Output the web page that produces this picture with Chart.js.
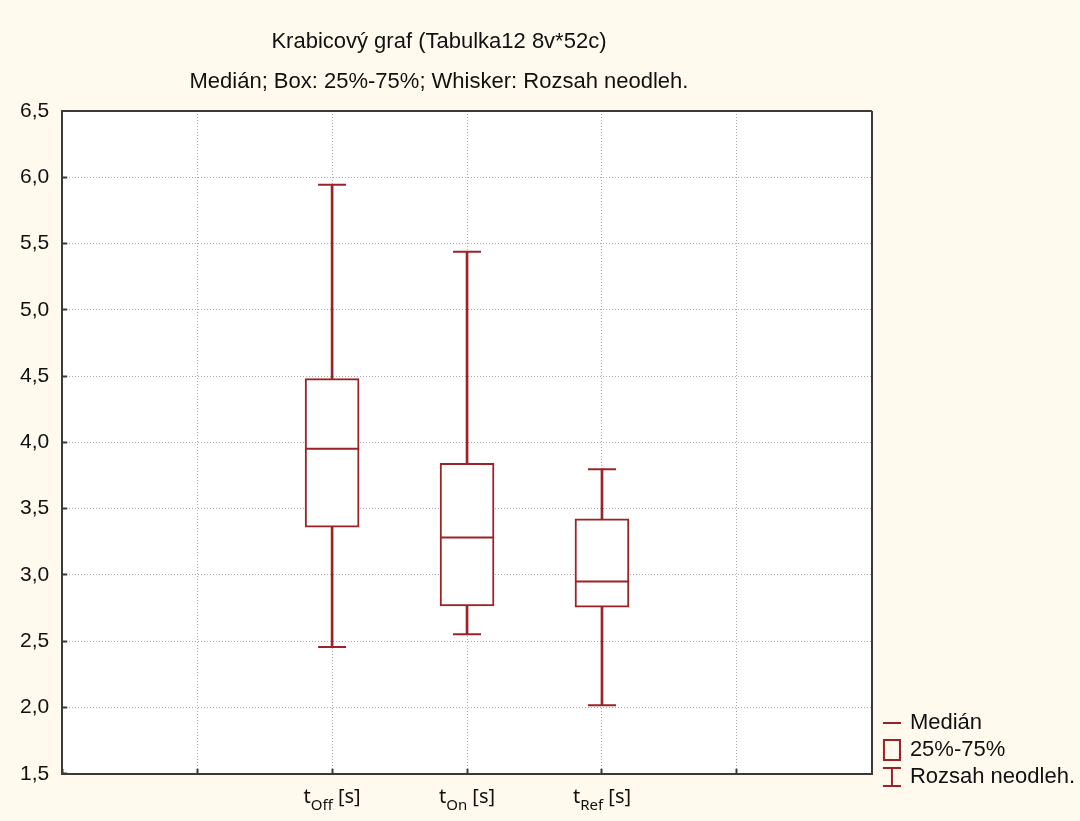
<!DOCTYPE html>
<html>
<head>
<meta charset="utf-8">
<script src="https://cdn.jsdelivr.net/npm/chart.js@4/dist/chart.umd.min.js"></script>
<style>
  html, body { margin: 0; padding: 0; background: #FFF9EE; }
  canvas { display: block; }
</style>
</head>
<body>
<canvas id="chart" width="1080" height="821"></canvas>
<script>
// ---- data ----
const titleLines = ['Krabicový graf (Tabulka12 8v*52c)', 'Medián; Box: 25%-75%; Whisker: Rozsah neodleh.'];
const categoryPos = [2, 3, 4];
const categoryMain = ['t', 't', 't'];
const categorySub = ['Off', 'On', 'Ref'];
const categoryUnit = ' [s]';
const whiskerMin = [2.456, 2.553, 2.018];
const q1 = [3.360, 2.767, 2.757];
const median = [3.953, 3.282, 2.950];
const q3 = [4.481, 3.843, 3.423];
const whiskerMax = [5.944, 5.439, 3.798];
const yMin = 1.5, yMax = 6.5, yStep = 0.5;
const xMin = 0, xMax = 6, xStep = 1;
const legendLabels = ['Medián', '25%-75%', 'Rozsah neodleh.'];

// ---- styles ----
const RED = '#9b2226';
const BG = '#FFF9EE';
const TEXT = '#111111';
const FONT = '"Liberation Sans", Arial, sans-serif';
const GRID = '#a9a9a9';
const FRAME = '#3a3a3a';

// ---- legend icons ----
function makeIcon(kind) {
  const c = document.createElement('canvas');
  c.width = 26; c.height = 26;
  const g = c.getContext('2d');
  g.fillStyle = RED; g.strokeStyle = RED;
  if (kind === 0) {
    g.fillRect(8, 12, 18, 2);
  } else if (kind === 1) {
    g.lineWidth = 2;
    g.strokeRect(9, 3, 16, 20);
  } else {
    g.fillRect(8, 3, 18, 2);
    g.fillRect(8, 21, 18, 2);
    g.fillRect(16, 3, 2, 20);
  }
  return c;
}
const legendIcons = [makeIcon(0), makeIcon(1), makeIcon(2)];

// ---- datasets built from arrays ----
const boxData = categoryPos.map((x, i) => ({ x, y: [q1[i], q3[i]] }));
const whiskerData = [];
categoryPos.forEach((x, i) => {
  whiskerData.push({ x, y: [whiskerMin[i], q1[i]] });
  whiskerData.push({ x, y: [q3[i], whiskerMax[i]] });
});
const capData = [];
categoryPos.forEach((x, i) => {
  capData.push({ x, y: whiskerMin[i] });
  capData.push({ x, y: whiskerMax[i] });
});
const medianData = categoryPos.map((x, i) => ({ x, y: median[i] }));

// ---- plugins ----
const backgroundPlugin = {
  id: 'bg',
  beforeDraw(chart) {
    const { ctx, chartArea: a } = chart;
    ctx.save();
    ctx.fillStyle = BG;
    ctx.fillRect(0, 0, chart.width, chart.height);
    ctx.fillStyle = '#ffffff';
    ctx.fillRect(a.left, a.top, a.right - a.left, a.bottom - a.top);
    ctx.restore();
  }
};

const titlePlugin = {
  id: 'titles',
  afterDraw(chart) {
    const ctx = chart.ctx;
    ctx.save();
    ctx.fillStyle = TEXT;
    ctx.font = '22px ' + FONT;
    ctx.textAlign = 'center';
    ctx.textBaseline = 'alphabetic';
    const cx = chart.chartArea.right / 2 + 3;
    ctx.fillText(titleLines[0], cx, 48);
    ctx.fillText(titleLines[1], cx, 88);
    ctx.restore();
  }
};

const xLabelPlugin = {
  id: 'xlabels',
  afterDraw(chart) {
    const ctx = chart.ctx;
    const xs = chart.scales.x;
    const base = chart.chartArea.bottom + 29;
    const mainFont = '20px "Noto Sans", sans-serif';
    const subFont = '15px "Noto Sans", sans-serif';
    ctx.save();
    ctx.fillStyle = TEXT;
    ctx.textBaseline = 'alphabetic';
    ctx.textAlign = 'left';
    categoryPos.forEach((p, i) => {
      ctx.font = mainFont; const w1 = ctx.measureText(categoryMain[i]).width;
      ctx.font = subFont; const w2 = ctx.measureText(categorySub[i]).width;
      ctx.font = mainFont; const w3 = ctx.measureText(categoryUnit).width;
      const cx = xs.getPixelForValue(p);
      let x = cx - (w1 + w2 + w3) / 2;
      ctx.font = mainFont; ctx.fillText(categoryMain[i], x, base); x += w1;
      ctx.font = subFont; ctx.fillText(categorySub[i], x, base + 7); x += w2;
      ctx.font = mainFont; ctx.fillText(categoryUnit, x, base);
    });
    ctx.restore();
  }
};

// grid line at the far end of each axis acts as the opposite frame edge
function gridFor(maxVal) {
  return {
    offset: false,
    color: c => (c.tick && c.tick.value === maxVal) ? FRAME : GRID,
    lineWidth: c => (c.tick && c.tick.value === maxVal) ? 2 : 1,
    drawTicks: true, tickLength: -5, tickColor: FRAME, tickWidth: 2, tickBorderDash: []
  };
}
function borderFor(maxVal) {
  return { display: true, color: FRAME, width: 2,
    dash: c => (c.tick && c.tick.value === maxVal) ? [] : [1, 2] };
}

new Chart(document.getElementById('chart'), {
  type: 'bar',
  data: {
    datasets: [
      { type: 'scatter', label: 'median', data: medianData,
        pointStyle: 'line', pointRadius: 27, pointHoverRadius: 27,
        pointBorderWidth: 2, pointBorderColor: RED, pointBackgroundColor: RED },
      { type: 'scatter', label: 'caps', data: capData,
        pointStyle: 'line', pointRadius: 14, pointHoverRadius: 14,
        pointBorderWidth: 2, pointBorderColor: RED, pointBackgroundColor: RED },
      { type: 'bar', label: 'whiskers', data: whiskerData, grouped: false,
        barThickness: 2, backgroundColor: RED, borderWidth: 0 },
      { type: 'bar', label: 'box', data: boxData, grouped: false,
        barThickness: 54, backgroundColor: '#ffffff', borderColor: RED,
        borderWidth: 2, borderSkipped: false }
    ]
  },
  options: {
    responsive: false,
    animation: false,
    events: [],
    layout: { padding: { left: 2, right: -5, top: 111, bottom: 28 } },
    scales: {
      x: {
        type: 'linear', position: 'bottom', min: xMin, max: xMax, offset: false,
        ticks: { stepSize: xStep, padding: 2.5, font: { size: 16, family: FONT }, callback: () => '' },
        grid: gridFor(xMax),
        border: borderFor(xMax)
      },
      y: {
        type: 'linear', position: 'left', min: yMin, max: yMax,
        ticks: { stepSize: yStep, padding: 18, color: TEXT, font: { size: 21, family: FONT },
          callback: v => v.toFixed(1).replace('.', ',') },
        grid: gridFor(yMax),
        border: borderFor(yMax)
      }
    },
    plugins: {
      title: { display: false },
      tooltip: { enabled: false },
      legend: {
        display: true, position: 'right', align: 'end', fullSize: true,
        onClick: null,
        labels: {
          usePointStyle: true, pointStyleWidth: 22, padding: 5,
          color: TEXT, font: { size: 22, family: FONT },
          generateLabels: () => legendLabels.map((t, i) => ({
            text: t, pointStyle: legendIcons[i], fillStyle: 'transparent',
            strokeStyle: 'transparent', lineWidth: 0, hidden: false, fontColor: TEXT, index: i
          }))
        }
      }
    }
  },
  plugins: [backgroundPlugin, titlePlugin, xLabelPlugin]
});
</script>
</body>
</html>
